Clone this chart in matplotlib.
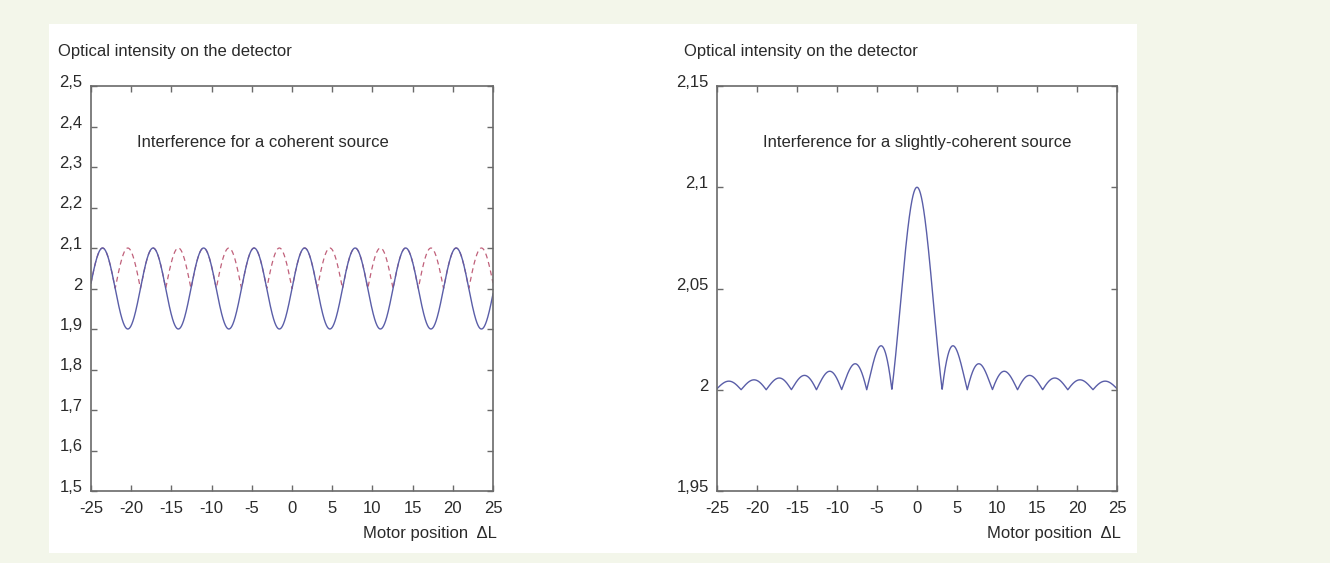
"""
Interference patterns on the detector: coherent vs slightly-coherent source
"""

import numpy as np
import matplotlib.pyplot as plt
import matplotlib.transforms as mtransforms
from matplotlib.patches import Rectangle

plt.rcParams['font.family'] = ['Liberation Sans', 'DejaVu Sans']

# Values
mean_level = 2.0         # mean intensity
amplitude = 0.1          # fringe amplitude
x_min, x_max = -25, 25   # motor position range

x_ticks = [-25, -20, -15, -10, -5, 0, 5, 10, 15, 20, 25]
x_labels = ['-25', '-20', '-15', '-10', '-5', '0', '5', '10', '15', '20', '25']

left_y_ticks = [1.5, 1.6, 1.7, 1.8, 1.9, 2.0, 2.1, 2.2, 2.3, 2.4, 2.5]
left_y_labels = ['1,5', '1,6', '1,7', '1,8', '1,9', '2', '2,1', '2,2', '2,3', '2,4', '2,5']

right_y_ticks = [1.95, 2.0, 2.05, 2.1, 2.15]
right_y_labels = ['1,95', '2', '2,05', '2,1', '2,15']

y_title = 'Optical intensity on the detector'
x_title = 'Motor position  \u0394L'
left_note = 'Interference for a coherent source'
right_note = 'Interference for a slightly-coherent source'

# Curves (two-beam interference model)
x = np.linspace(x_min, x_max, 3001)
coherent = mean_level + amplitude * np.sin(x)
coherent_shifted = mean_level + amplitude * np.abs(np.sin(x))
partial = mean_level + amplitude * np.abs(np.sinc(x / np.pi))

blue = '#5a5ea8'
red = '#c0607a'
frame = '#6a6a6a'
txt = '#2a2a2a'
fs = 12

fig = plt.figure(figsize=(13.3, 5.63), dpi=100)
fig.patch.set_facecolor('#f3f6ea')
panel = Rectangle((49 / 1330, 1 - 553 / 563), 1088 / 1330, 529 / 563,
                  transform=fig.transFigure, facecolor='white',
                  edgecolor='none', zorder=-10)
fig.add_artist(panel)

ax1 = fig.add_axes([91 / 1330, 1 - 491 / 563, 402 / 1330, 405 / 563])
ax2 = fig.add_axes([717 / 1330, 1 - 491 / 563, 400 / 1330, 405 / 563])

# y tick labels sit a little above their ticks in the original
lift = mtransforms.ScaledTranslation(0, 5 / 100, fig.dpi_scale_trans)


def style_axes(ax, yticks, ylabels):
    ax.set_xlim(x_min, x_max)
    ax.set_ylim(yticks[0], yticks[-1])
    ax.set_xticks(x_ticks)
    ax.set_xticklabels(x_labels)
    ax.set_yticks(yticks)
    ax.set_yticklabels(ylabels)
    ax.tick_params(direction='in', length=4, width=1, color=frame,
                   top=True, right=True, labelsize=fs, labelcolor=txt)
    ax.tick_params(axis='x', pad=7)
    ax.tick_params(axis='y', pad=6)
    for lab in ax.get_yticklabels():
        lab.set_transform(lab.get_transform() + lift)
    for s in ax.spines.values():
        s.set_color(frame)
        s.set_linewidth(1.2)
    ax.set_facecolor('white')
    # axis titles
    ax.text(-0.082, 1.086, y_title, transform=ax.transAxes, fontsize=fs,
            color=txt, ha='left', va='center')
    ax.text(1.01, -0.104, x_title, transform=ax.transAxes, fontsize=fs,
            color=txt, ha='right', va='center')


# Left: coherent source
ax1.plot(x, coherent_shifted, color=red, lw=0.9, ls=(0, (4, 3)))
ax1.plot(x, coherent, color=blue, lw=1.0)
style_axes(ax1, left_y_ticks, left_y_labels)
ax1.text(0.115, 0.86, left_note, transform=ax1.transAxes, fontsize=fs,
         color=txt, ha='left', va='center')

# Right: slightly-coherent source
ax2.plot(x, partial, color=blue, lw=1.0)
style_axes(ax2, right_y_ticks, right_y_labels)
ax2.text(0.5, 0.86, right_note, transform=ax2.transAxes, fontsize=fs,
         color=txt, ha='center', va='center')

fig.savefig('out.png', dpi=100, facecolor=fig.get_facecolor())
